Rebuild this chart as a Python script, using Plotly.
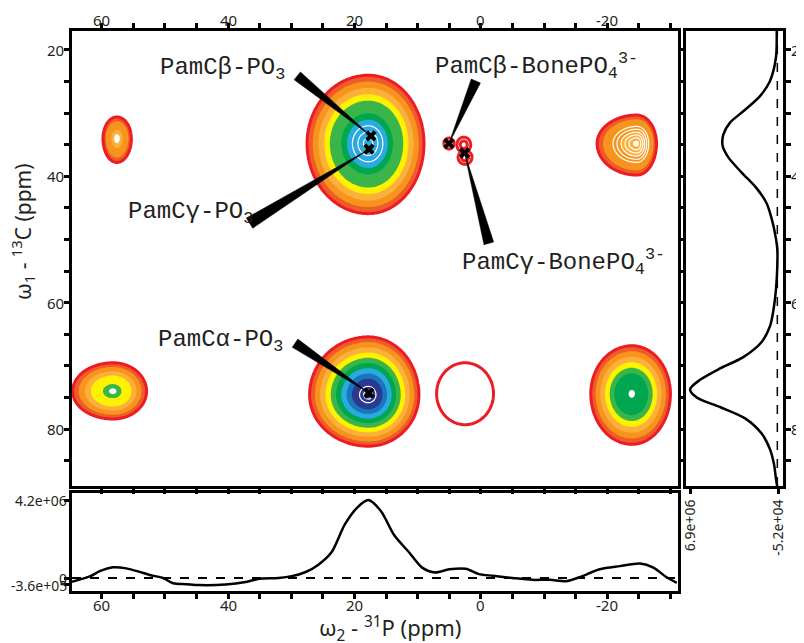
import numpy as np
import plotly.graph_objects as go

# ---------------- data ----------------
# filled cross-peaks: centre (31P ppm, 13C ppm) and contour edge extents (ppm)
PEAK_P = [17.8, 17.8, 58.2, -23.9, -24.7, 57.6]
PEAK_C = [34.8, 74.6, 74.0, 74.4, 34.8, 34.0]
EXT_P_HI = [9.7, 9.3, 6.4, 6.5, 6.3, 2.2]    # toward higher 31P ppm (left)
EXT_P_LO = [8.8, 8.0, 5.3, 6.1, 3.1, 2.3]    # toward lower 31P ppm (right)
EXT_C_LO = [10.8, 9.2, 4.5, 7.6, 4.5, 3.4]   # toward lower 13C ppm (up)
EXT_C_HI = [11.1, 8.1, 4.4, 8.0, 5.0, 3.8]   # toward higher 13C ppm (down)

# outline-only features
RING_P = [2.5, 5.05, 2.7, 2.5]
RING_C = [74.4, 34.8, 35.0, 37.0]
RING_EP = [4.5, 0.8, 1.1, 1.1]
RING_EC = [4.9, 0.87, 1.2, 1.1]
RING_GROUP = [0, 1, 2, 2]

# assignment markers
MARK_TEXT = ["PamCβ-PO<sub>3</sub>", "PamCγ-PO<sub>3</sub>",
             "PamCβ-BonePO<sub>4</sub><sup>3-</sup>",
             "PamCγ-BonePO<sub>4</sub><sup>3-</sup>", "PamCα-PO<sub>3</sub>"]
MARK_P = [17.4, 17.7, 5.05, 2.57, 17.7]
MARK_C = [33.6, 35.7, 34.8, 36.3, 74.3]

# 31P projection (bottom)
PROJ_P_PPM = [64.7, 61.8, 60.3, 58.2, 56.1, 54.0, 52.4, 50.3, 48.7, 46.6, 44.6,
              40.4, 37.2, 35.1, 32.0, 29.9, 27.8, 25.7, 23.6, 21.5, 19.4, 17.8,
              15.8, 13.7, 11.4, 9.3, 7.2, 5.0, 2.4, 0.3, -1.9, -5.0, -8.2,
              -10.9, -13.5, -15.6, -18.8, -22.0, -25.2, -27.3, -29.4, -31.0]
PROJ_P_INT = [-0.20e6, 0.10e6, 0.37e6, 0.58e6, 0.52e6, 0.33e6, 0.16e6, 0.0,
              -0.28e6, -0.33e6, -0.38e6, -0.35e6, -0.21e6, -0.04e6, 0.0,
              0.10e6, 0.31e6, 0.72e6, 1.40e6, 2.90e6, 3.85e6, 4.20e6, 3.60e6,
              2.30e6, 1.40e6, 0.56e6, 0.30e6, 0.47e6, 0.50e6, 0.21e6, 0.12e6,
              0.0, -0.10e6, -0.09e6, -0.17e6, 0.04e6, 0.47e6, 0.64e6, 0.78e6,
              0.56e6, 0.04e6, -0.26e6]

# 13C projection (right)
PROJ_C_PPM = [17.0, 21.2, 24.9, 27.3, 29.7, 31.5, 33.4, 35.2, 37.0, 39.4, 41.9,
              44.3, 46.7, 49.1, 51.6, 54.0, 57.7, 61.3, 63.7, 66.2, 68.6, 70.4,
              72.2, 73.7, 75.0, 76.5, 78.3, 80.7, 83.2, 85.6, 88.0, 89.2]
PROJ_C_INT = [0.05e6, 0.11e6, 0.58e6, 1.37e6, 2.69e6, 3.74e6, 4.27e6, 4.32e6,
              3.87e6, 2.82e6, 1.63e6, 0.84e6, 0.45e6, 0.18e6, 0.0, 0.0, 0.10e6,
              0.32e6, 0.58e6, 1.24e6, 2.69e6, 4.53e6, 6.11e6, 6.90e6, 6.37e6,
              4.53e6, 2.55e6, 1.24e6, 0.58e6, 0.26e6, 0.10e6, 0.0]

X_TICKS = [60, 40, 20, 0, -20]
Y_TICKS = [20, 40, 60, 80]
BOT_TICKVALS = [4.2e6, 0, -3.6e5]
BOT_TICKTEXT = ["4.2e+06", "0", "-3.6e+05"]
RIGHT_TICKVALS = [6.9e6, -5.2e4]
RIGHT_TICKTEXT = ["6.9e+06", "-5.2e+04"]

# ---------------- style ----------------
RED = "#ec1c24"
ORED = "#f15a29"
ORANGE = "#f7941d"
LORANGE = "#fbb03b"
YELLOW = "#fff200"
GREEN = "#3ab54a"
DKGREEN = "#00a650"
CYAN = "#29abe2"
BLUE = "#1b75bb"
DKBLUE = "#2b3990"
WHITE = "#ffffff"
INK = "#231f20"

PEAK_BANDS = [
    [ORED, ORANGE, LORANGE, YELLOW, GREEN, GREEN, DKGREEN, CYAN],
    [ORED, ORANGE, LORANGE, YELLOW, GREEN, DKGREEN, CYAN, BLUE, DKBLUE],
    [ORED, ORANGE, LORANGE, YELLOW, YELLOW, GREEN, WHITE],
    [ORED, ORANGE, LORANGE, YELLOW, GREEN, DKGREEN, DKGREEN, DKGREEN, WHITE],
    [ORED, ORANGE, ORANGE, ORANGE, LORANGE, LORANGE, WHITE],
    [ORED, ORANGE, ORANGE, LORANGE, WHITE],
]
PEAK_W = [0.093, 0.09, 0.15, 0.115, 0.15, 0.2]
PEAK_WHITE = [(0.26, 0.08, 0.09), (0.15, 0.08, 0.07), None, None, (0.6, 0.2, 0.1), None]

X_RANGE = [64.7, -31.2]
Y_RANGE = [89.0, 17.0]
BOT_RANGE = [-7.0e5, 4.58e6]
W, H = 804, 643
OFF = 8  # page body margin of the browser
MAIN_X = (72 - OFF, 678 - OFF)
MAIN_Y = (31 - OFF, 486 - OFF)
RIGHT_X = (686 - OFF, 783 - OFF)
BOT_Y = (493 - OFF, 591 - OFF)

# label layout (data coords) and wedge base anchors
LABEL_POS = [(40.9, 23.0), (45.95, 45.8), (-8.85, 22.5), (-13.1, 53.6), (41.2, 66.1)]
WEDGE_BASE = [(29.05, 24.1), (36.6, 47.4), (0.79, 24.9), (-1.26, 50.6), (29.4, 66.4)]
WEDGE_HALF_PX = [5, 6, 5, 5, 5]


def fx(v):
    return (v - OFF) / W


def fy(v):
    return 1 - (v - OFF) / H


fig = go.Figure()


def rho(cp, cc, ehi, elo, eclo, echi, n=101, pad=1.3):
    xs = np.linspace(cp - pad * elo, cp + pad * ehi, n)
    ys = np.linspace(cc - pad * eclo, cc + pad * echi, n)
    X, Y = np.meshgrid(xs, ys)
    dx = X - cp
    dy = Y - cc
    hx = np.where(dx > 0, ehi, elo)
    hy = np.where(dy > 0, echi, eclo)
    return xs, ys, np.sqrt((dx / hx) ** 2 + (dy / hy) ** 2)


for i in range(len(PEAK_P)):
    xs, ys, r = rho(PEAK_P[i], PEAK_C[i], EXT_P_HI[i], EXT_P_LO[i], EXT_C_LO[i], EXT_C_HI[i])
    z = np.round(-r, 4)
    cols = PEAK_BANDS[i]
    w = PEAK_W[i]
    nc = len(cols)
    cs = [[0, "rgba(255,255,255,0)"]] + [[(k + 1) / nc, c] for k, c in enumerate(cols)]
    fig.add_trace(go.Contour(
        x=xs, y=ys, z=z, colorscale=cs, showscale=False, autocontour=False,
        contours=dict(start=-1, end=-1 + (nc - 1) * w + w * 0.001, size=w,
                      coloring="fill", showlines=False),
        line=dict(width=0), hoverinfo="skip", xaxis="x", yaxis="y"))
    fig.add_trace(go.Contour(
        x=xs, y=ys, z=z, showscale=False, autocontour=False,
        contours=dict(start=-1, end=-0.999, size=0.5, coloring="none"),
        line=dict(color=RED, width=3), hoverinfo="skip", xaxis="x", yaxis="y"))
    if PEAK_WHITE[i]:
        a, b, s = PEAK_WHITE[i]
        fig.add_trace(go.Contour(
            x=xs, y=ys, z=z, showscale=False, autocontour=False,
            contours=dict(start=-a, end=-b + s * 0.001, size=s, coloring="none"),
            line=dict(color=WHITE, width=1.2), hoverinfo="skip", xaxis="x", yaxis="y"))

# outline-only features
for g in sorted(set(RING_GROUP)):
    idx = [k for k in range(len(RING_GROUP)) if RING_GROUP[k] == g]
    lo_x = min(RING_P[k] - 1.5 * RING_EP[k] for k in idx)
    hi_x = max(RING_P[k] + 1.5 * RING_EP[k] for k in idx)
    lo_y = min(RING_C[k] - 1.5 * RING_EC[k] for k in idx)
    hi_y = max(RING_C[k] + 1.5 * RING_EC[k] for k in idx)
    xs = np.linspace(lo_x, hi_x, 91)
    ys = np.linspace(lo_y, hi_y, 91)
    X, Y = np.meshgrid(xs, ys)
    r = np.min([np.sqrt(((X - RING_P[k]) / RING_EP[k]) ** 2 + ((Y - RING_C[k]) / RING_EC[k]) ** 2)
                for k in idx], axis=0)
    z = np.round(-r, 4)
    if len(idx) > 1:
        cont = dict(start=-1, end=-0.5 + 0.0005, size=0.5, coloring="none")
    else:
        cont = dict(start=-1, end=-0.999, size=0.5, coloring="none")
    fig.add_trace(go.Contour(
        x=xs, y=ys, z=z, showscale=False, autocontour=False, contours=cont,
        line=dict(color=RED, width=3), hoverinfo="skip", xaxis="x", yaxis="y"))

# pointer wedges (drawn as filled paths)
ppx = (MAIN_X[1] - MAIN_X[0]) / abs(X_RANGE[0] - X_RANGE[1])
ppy = (MAIN_Y[1] - MAIN_Y[0]) / abs(Y_RANGE[0] - Y_RANGE[1])
shapes = []
for k in range(len(MARK_P)):
    tx, ty = MARK_P[k], MARK_C[k]
    bx, by = WEDGE_BASE[k]
    vx = (tx - bx) * -ppx
    vy = (ty - by) * ppy
    L = np.hypot(vx, vy)
    nx, ny = -vy / L, vx / L
    hw = WEDGE_HALF_PX[k]
    b1 = (bx - nx * hw / ppx, by + ny * hw / ppy)
    b2 = (bx + nx * hw / ppx, by - ny * hw / ppy)
    path = f"M {b1[0]},{b1[1]} L {b2[0]},{b2[1]} L {tx},{ty} Z"
    shapes.append(dict(type="path", path=path, xref="x", yref="y",
                       fillcolor="black", line=dict(color="black", width=0.5)))

fig.add_trace(go.Scatter(x=MARK_P, y=MARK_C, mode="markers",
                         marker=dict(symbol="x", size=10, color="black",
                                     line=dict(width=0)),
                         hoverinfo="skip", xaxis="x", yaxis="y"))

# projections
fig.add_trace(go.Scatter(x=PROJ_P_PPM, y=PROJ_P_INT, mode="lines",
                         line=dict(color="black", width=2.5, shape="spline", smoothing=0.8),
                         hoverinfo="skip", xaxis="x2", yaxis="y2"))
fig.add_trace(go.Scatter(x=PROJ_C_INT, y=PROJ_C_PPM, mode="lines",
                         line=dict(color="black", width=2.5, shape="spline", smoothing=0.8),
                         hoverinfo="skip", xaxis="x3", yaxis="y3"))

shapes.append(dict(type="line", xref="x2 domain", yref="y2", x0=0, x1=1, y0=0, y1=0,
                   line=dict(color="black", width=2, dash="dash")))
shapes.append(dict(type="line", xref="x3", yref="y3 domain", x0=0, x1=0, y0=0, y1=1,
                   line=dict(color="black", width=1.5, dash="dash")))

annotations = []
for k in range(len(MARK_TEXT)):
    annotations.append(dict(x=LABEL_POS[k][0], y=LABEL_POS[k][1], xref="x", yref="y",
                            text=MARK_TEXT[k], showarrow=False,
                            font=dict(family="Liberation Mono", size=24, color=INK),
                            xanchor="center", yanchor="middle"))
annotations.append(dict(x=fx(22), y=fy(232), xref="paper", yref="paper",
                        xanchor="center", yanchor="middle",
                        text="ω<sub>1</sub> - <sup>13</sup>C (ppm)", textangle=-90,
                        showarrow=False, font=dict(family="Noto Sans", size=21, color=INK)))
annotations.append(dict(x=fx(390), y=fy(628), xref="paper", yref="paper",
                        xanchor="center", yanchor="middle",
                        text="ω<sub>2</sub> - <sup>31</sup>P (ppm)",
                        showarrow=False, font=dict(family="Noto Sans", size=22, color=INK)))

# tick labels placed as text next to the axis lines
tfont = dict(family="Noto Sans", size=15, color=INK)
sfont = dict(family="Noto Sans", size=14, color=INK)
for v in X_TICKS:
    annotations.append(dict(x=v, xref="x", y=fy(20), yref="paper", text=str(v),
                            showarrow=False, xanchor="center", yanchor="middle", font=tfont))
    annotations.append(dict(x=v, xref="x", y=fy(605), yref="paper", text=str(v),
                            showarrow=False, xanchor="center", yanchor="middle", font=tfont))
for v in Y_TICKS:
    annotations.append(dict(x=fx(66), xref="paper", y=v, yref="y", text=str(v),
                            showarrow=False, xanchor="right", yanchor="middle", font=tfont))
    annotations.append(dict(x=fx(789), xref="paper", y=v, yref="y", text=str(v),
                            showarrow=False, xanchor="left", yanchor="middle", font=tfont))
for v, t in zip(BOT_TICKVALS, BOT_TICKTEXT):
    yy = v if v >= 0 else v - 0.4e5
    annotations.append(dict(x=fx(69), xref="paper", y=yy, yref="y2", text=t,
                            showarrow=False, xanchor="right", yanchor="middle", font=sfont))

axbase = dict(showline=True, linewidth=3, linecolor="black", showgrid=False, zeroline=False,
              ticks="outside", ticklen=5, tickwidth=2.5, tickcolor="black", automargin=False)
minor = dict(dtick=5, ticks="outside", ticklen=5, tickwidth=2.5, tickcolor="black", showgrid=False)

xdom = [MAIN_X[0] / W, MAIN_X[1] / W]
ydom = [1 - MAIN_Y[1] / H, 1 - MAIN_Y[0] / H]

fig.update_layout(
    width=W, height=H, margin=dict(l=0, r=0, t=0, b=0, autoexpand=False),
    paper_bgcolor="white", plot_bgcolor="white", showlegend=False,
    xaxis=dict(axbase, domain=xdom, range=X_RANGE, side="top", anchor="y",
               tickvals=X_TICKS, minor=minor, mirror="ticks", showticklabels=False),
    yaxis=dict(axbase, domain=ydom, range=Y_RANGE, anchor="x",
               tickvals=Y_TICKS, minor=minor, mirror="ticks", showticklabels=False),
    xaxis2=dict(axbase, domain=xdom, range=X_RANGE, anchor="y2", matches="x",
                tickvals=X_TICKS, minor=minor, mirror=True, showticklabels=False),
    yaxis2=dict(axbase, domain=[1 - BOT_Y[1] / H, 1 - BOT_Y[0] / H], range=BOT_RANGE,
                anchor="x2", tickvals=BOT_TICKVALS, mirror=True, showticklabels=False),
    xaxis3=dict(axbase, domain=[RIGHT_X[0] / W, RIGHT_X[1] / W], range=[7.22e6, -4.47e5],
                anchor="y3", tickvals=RIGHT_TICKVALS, ticktext=RIGHT_TICKTEXT,
                tickangle=-90, mirror=True, tickfont=sfont),
    yaxis3=dict(axbase, domain=ydom, range=Y_RANGE, anchor="x3", side="right", matches="y",
                tickvals=Y_TICKS, minor=minor, mirror=True, showticklabels=False),
    shapes=shapes, annotations=annotations,
)

fig.write_html("out.html")
